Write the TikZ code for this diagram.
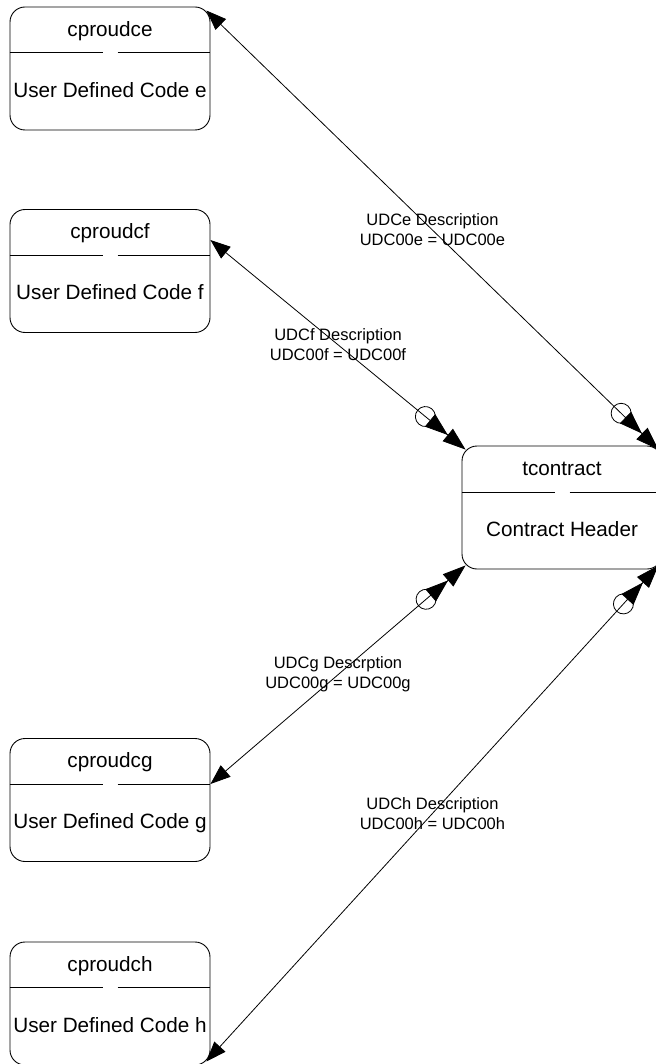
\documentclass[tikz,border=0pt]{standalone}
\usepackage{fontspec}
\setmainfont{Liberation Sans}
\usetikzlibrary{arrows.meta,decorations.markings}

\begin{document}
\begin{tikzpicture}[
  x=1pt, y=-1pt,
  entity/.style={draw, rounded corners=15pt, line width=0.9pt, minimum width=200pt, minimum height=123pt, inner sep=0pt},
  boxtext/.style={anchor=base, inner sep=0pt, font=\fontsize{20.7}{24}\selectfont},
  divider/.style={line width=0.9pt},
  rel/.style={line width=0.8pt, {Triangle[length=20pt,width=15pt]}-{Triangle[length=23pt,width=16pt] Triangle[length=23pt,width=16pt]}},
  ring/.style={postaction={decorate, decoration={markings, mark=at position -52pt with {\draw[line width=0.8pt] (0,0) circle (10pt);}}}},
  rellabel/.style={midway, align=center, inner sep=0pt, font=\fontsize{16.5}{20}\selectfont}
]
\useasboundingbox (0,0) rectangle (655,1064);

% entities
\node[entity] (cproudce) at (110,68.5) {};
\node[boxtext] (cproudce-title) at ([shift={(0,29.5)}]cproudce.north) {cproudce};
\node[boxtext] (cproudce-body) at ([shift={(0,90.5)}]cproudce.north) {User Defined Code e};
\draw[divider] ([shift={(0,46)}]cproudce.north west) -- ([shift={(93,46)}]cproudce.north west)
  ([shift={(108,46)}]cproudce.north west) -- ([shift={(0,46)}]cproudce.north east);

\node[entity] (cproudcf) at (110,271) {};
\node[boxtext] (cproudcf-title) at ([shift={(0,29.5)}]cproudcf.north) {cproudcf};
\node[boxtext] (cproudcf-body) at ([shift={(0,90.5)}]cproudcf.north) {User Defined Code f};
\draw[divider] ([shift={(0,46)}]cproudcf.north west) -- ([shift={(93,46)}]cproudcf.north west)
  ([shift={(108,46)}]cproudcf.north west) -- ([shift={(0,46)}]cproudcf.north east);

\node[entity] (tcontract) at (562,507.5) {};
\node[boxtext] (tcontract-title) at ([shift={(0,30)}]tcontract.north) {tcontract};
\node[boxtext] (tcontract-body) at ([shift={(0,90.5)}]tcontract.north) {Contract Header};
\draw[divider] ([shift={(0,47)}]tcontract.north west) -- ([shift={(93,47)}]tcontract.north west)
  ([shift={(108,47)}]tcontract.north west) -- ([shift={(0,47)}]tcontract.north east);

\node[entity] (cproudcg) at (110,800) {};
\node[boxtext] (cproudcg-title) at ([shift={(0,29.5)}]cproudcg.north) {cproudcg};
\node[boxtext] (cproudcg-body) at ([shift={(0,90.5)}]cproudcg.north) {User Defined Code g};
\draw[divider] ([shift={(0,46)}]cproudcg.north west) -- ([shift={(93,46)}]cproudcg.north west)
  ([shift={(108,46)}]cproudcg.north west) -- ([shift={(0,46)}]cproudcg.north east);

\node[entity] (cproudch) at (110,1003.5) {};
\node[boxtext] (cproudch-title) at ([shift={(0,29.5)}]cproudch.north) {cproudch};
\node[boxtext] (cproudch-body) at ([shift={(0,90.5)}]cproudch.north) {User Defined Code h};
\draw[divider] ([shift={(0,46)}]cproudch.north west) -- ([shift={(93,46)}]cproudch.north west)
  ([shift={(108,46)}]cproudch.north west) -- ([shift={(0,46)}]cproudch.north east);

% relationships
\draw[rel, ring] ([shift={(-4,4)}]cproudce.north east) -- ([shift={(-4,4)}]tcontract.north east)
  node[rellabel] {UDCe Description\\UDC00e = UDC00e};
\draw[rel, ring] ([shift={(0,-31)}]cproudcf.east) -- ([shift={(4,4)}]tcontract.north west)
  node[rellabel] {UDCf Description\\UDC00f = UDC00f};
\draw[rel, ring] ([shift={(0,-16)}]cproudcg.east) -- ([shift={(4,-4)}]tcontract.south west)
  node[rellabel] {UDCg Descrption\\UDC00g = UDC00g};
\draw[rel, ring] ([shift={(-4,-4)}]cproudch.south east) -- ([shift={(-4,-4)}]tcontract.south east)
  node[rellabel] {UDCh Description\\UDC00h = UDC00h};
\end{tikzpicture}
\end{document}
